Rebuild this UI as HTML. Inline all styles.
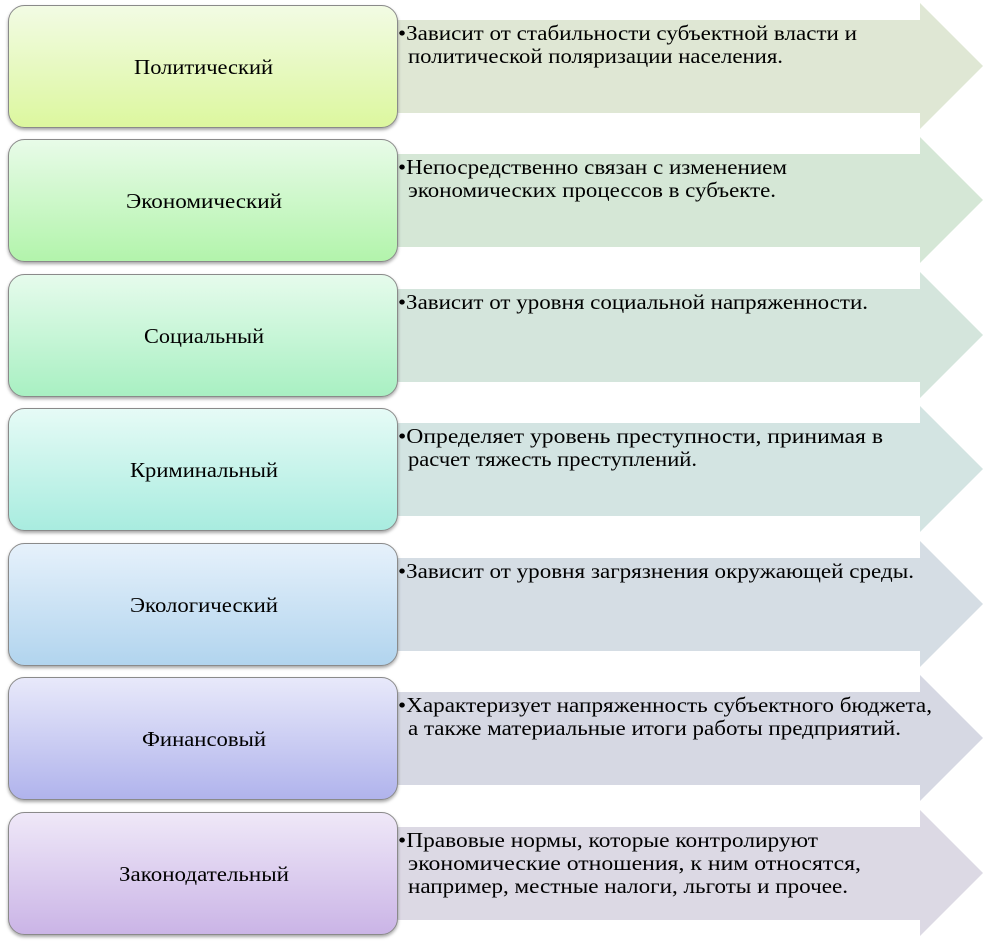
<!DOCTYPE html>
<html><head><meta charset="utf-8"><style>
html,body{margin:0;padding:0;background:#fff;}
svg{display:block;}
text{font-family:"Liberation Serif",serif;font-size:21px;fill:#000;}
</style></head><body>
<svg width="984" height="947" viewBox="0 0 984 947" xmlns="http://www.w3.org/2000/svg">
<defs>
<linearGradient id="g1" x1="0" y1="0" x2="0" y2="1"><stop offset="0" stop-color="#f2fbe4"/><stop offset="1" stop-color="#dcf79e"/></linearGradient>
<linearGradient id="g2" x1="0" y1="0" x2="0" y2="1"><stop offset="0" stop-color="#e8fbe8"/><stop offset="1" stop-color="#b2f4ab"/></linearGradient>
<linearGradient id="g3" x1="0" y1="0" x2="0" y2="1"><stop offset="0" stop-color="#e6fbec"/><stop offset="1" stop-color="#a8f0c2"/></linearGradient>
<linearGradient id="g4" x1="0" y1="0" x2="0" y2="1"><stop offset="0" stop-color="#e6fbf6"/><stop offset="1" stop-color="#a8ecdf"/></linearGradient>
<linearGradient id="g5" x1="0" y1="0" x2="0" y2="1"><stop offset="0" stop-color="#e6f1fb"/><stop offset="1" stop-color="#b1d4ee"/></linearGradient>
<linearGradient id="g6" x1="0" y1="0" x2="0" y2="1"><stop offset="0" stop-color="#e8e9fa"/><stop offset="1" stop-color="#b0b3ec"/></linearGradient>
<linearGradient id="g7" x1="0" y1="0" x2="0" y2="1"><stop offset="0" stop-color="#efe8f8"/><stop offset="1" stop-color="#cab4e6"/></linearGradient>
<filter id="sh" x="-5%" y="-5%" width="110%" height="115%"><feDropShadow dx="0" dy="2" stdDeviation="1.5" flood-color="#000" flood-opacity="0.35"/></filter>
</defs>

<g transform="translate(0,5)">
<path d="M398 15 H920 V-2 L983 61 L920 124 V108 H398 Z" fill="#dfe7d4"/>
<rect x="8.5" y="0.5" width="389" height="122" rx="16" fill="url(#g1)" stroke="#8a8a8a" filter="url(#sh)"/>
<text x="134" y="69" textLength="139" lengthAdjust="spacingAndGlyphs">Политический</text>
<text x="398" y="35" textLength="459" lengthAdjust="spacingAndGlyphs">•Зависит от стабильности субъектной власти и</text>
<text x="408" y="58" textLength="375" lengthAdjust="spacingAndGlyphs">политической поляризации населения.</text>
</g>

<g transform="translate(0,139)">
<path d="M398 15 H920 V-2 L983 61 L920 124 V108 H398 Z" fill="#d5e7d6"/>
<rect x="8.5" y="0.5" width="389" height="122" rx="16" fill="url(#g2)" stroke="#8a8a8a" filter="url(#sh)"/>
<text x="126" y="69" textLength="156" lengthAdjust="spacingAndGlyphs">Экономический</text>
<text x="398" y="35" textLength="389" lengthAdjust="spacingAndGlyphs">•Непосредственно связан с изменением</text>
<text x="408" y="58" textLength="368" lengthAdjust="spacingAndGlyphs">экономических процессов в субъекте.</text>
</g>

<g transform="translate(0,274)">
<path d="M398 15 H920 V-2 L983 61 L920 124 V108 H398 Z" fill="#d4e5dc"/>
<rect x="8.5" y="0.5" width="389" height="122" rx="16" fill="url(#g3)" stroke="#8a8a8a" filter="url(#sh)"/>
<text x="144" y="69" textLength="120" lengthAdjust="spacingAndGlyphs">Социальный</text>
<text x="398" y="35" textLength="470" lengthAdjust="spacingAndGlyphs">•Зависит от уровня социальной напряженности.</text>
</g>

<g transform="translate(0,408)">
<path d="M398 15 H920 V-2 L983 61 L920 124 V108 H398 Z" fill="#d3e4e2"/>
<rect x="8.5" y="0.5" width="389" height="122" rx="16" fill="url(#g4)" stroke="#8a8a8a" filter="url(#sh)"/>
<text x="130" y="69" textLength="148" lengthAdjust="spacingAndGlyphs">Криминальный</text>
<text x="398" y="35" textLength="485" lengthAdjust="spacingAndGlyphs">•Определяет уровень преступности, принимая в</text>
<text x="408" y="58" textLength="289" lengthAdjust="spacingAndGlyphs">расчет тяжесть преступлений.</text>
</g>

<g transform="translate(0,543)">
<path d="M398 15 H920 V-2 L983 61 L920 124 V108 H398 Z" fill="#d5dde4"/>
<rect x="8.5" y="0.5" width="389" height="122" rx="16" fill="url(#g5)" stroke="#8a8a8a" filter="url(#sh)"/>
<text x="130" y="69" textLength="148" lengthAdjust="spacingAndGlyphs">Экологический</text>
<text x="398" y="35" textLength="516" lengthAdjust="spacingAndGlyphs">•Зависит от уровня загрязнения окружающей среды.</text>
</g>

<g transform="translate(0,677)">
<path d="M398 15 H920 V-2 L983 61 L920 124 V108 H398 Z" fill="#d6d8e3"/>
<rect x="8.5" y="0.5" width="389" height="122" rx="16" fill="url(#g6)" stroke="#8a8a8a" filter="url(#sh)"/>
<text x="142" y="69" textLength="124" lengthAdjust="spacingAndGlyphs">Финансовый</text>
<text x="398" y="35" textLength="534" lengthAdjust="spacingAndGlyphs">•Характеризует напряженность субъектного бюджета,</text>
<text x="408" y="58" textLength="493" lengthAdjust="spacingAndGlyphs">а также материальные итоги работы предприятий.</text>
</g>

<g transform="translate(0,812)">
<path d="M398 15 H920 V-2 L983 61 L920 124 V108 H398 Z" fill="#dcd9e4"/>
<rect x="8.5" y="0.5" width="389" height="122" rx="16" fill="url(#g7)" stroke="#8a8a8a" filter="url(#sh)"/>
<text x="119" y="69" textLength="170" lengthAdjust="spacingAndGlyphs">Законодательный</text>
<text x="398" y="35" textLength="420" lengthAdjust="spacingAndGlyphs">•Правовые нормы, которые контролируют</text>
<text x="408" y="58" textLength="453" lengthAdjust="spacingAndGlyphs">экономические отношения, к ним относятся,</text>
<text x="408" y="81" textLength="440" lengthAdjust="spacingAndGlyphs">например, местные налоги, льготы и прочее.</text>
</g>
</svg>
</body></html>
